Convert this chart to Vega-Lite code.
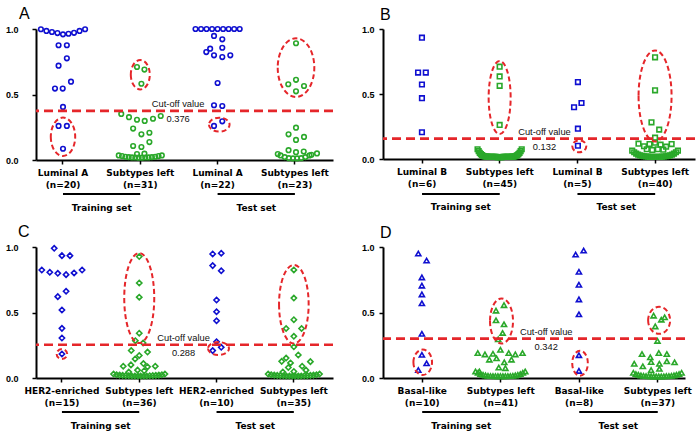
{
"$schema": "https://vega.github.io/schema/vega-lite/v6.json",
"background": "white",
"padding": 5,
"config": {
 "view": {"stroke": null},
 "font": "Liberation Sans",
 "title": {"fontSize": 16, "fontWeight": "normal", "font": "Liberation Sans", "color": "black", "frame": "group", "anchor": "start", "offset": 2},
 "axis": {"domainColor": "black", "domainWidth": 2, "tickColor": "black", "tickWidth": 1.5, "tickSize": 4, "grid": false, "labelColor": "black", "labelFontWeight": "bold", "labelFontSize": 9},
 "axisX": {"labelFont": "DejaVu Sans", "labelAngle": 0, "labelPadding": 4, "labelLineHeight": 12.3, "labelOverlap": false},
 "axisY": {"labelFont": "Liberation Sans"}
},
"datasets": {
 "A": [
  {"c":"Luminal A|(n=20)","g":"s","v":0.998,"o":-4},{"c":"Luminal A|(n=20)","g":"s","v":0.985,"o":-3},{"c":"Luminal A|(n=20)","g":"s","v":0.977,"o":-2},{"c":"Luminal A|(n=20)","g":"s","v":0.969,"o":-1},{"c":"Luminal A|(n=20)","g":"s","v":0.959,"o":0},{"c":"Luminal A|(n=20)","g":"s","v":0.964,"o":1},{"c":"Luminal A|(n=20)","g":"s","v":0.971,"o":2},{"c":"Luminal A|(n=20)","g":"s","v":0.985,"o":3},{"c":"Luminal A|(n=20)","g":"s","v":0.998,"o":4},
  {"c":"Luminal A|(n=20)","g":"s","v":0.876,"o":-0.8},{"c":"Luminal A|(n=20)","g":"s","v":0.876,"o":0.7},{"c":"Luminal A|(n=20)","g":"s","v":0.776,"o":0.7},{"c":"Luminal A|(n=20)","g":"s","v":0.72,"o":-0.8},{"c":"Luminal A|(n=20)","g":"s","v":0.598,"o":1.45},{"c":"Luminal A|(n=20)","g":"s","v":0.545,"o":-1.45},{"c":"Luminal A|(n=20)","g":"s","v":0.545,"o":-0.05},{"c":"Luminal A|(n=20)","g":"s","v":0.405,"o":0},{"c":"Luminal A|(n=20)","g":"s","v":0.26,"o":-0.8},{"c":"Luminal A|(n=20)","g":"s","v":0.26,"o":0.7},{"c":"Luminal A|(n=20)","g":"s","v":0.086,"o":0},
  {"c":"Subtypes left|(n=31)","g":"l","v":0.71,"o":-0.6},{"c":"Subtypes left|(n=31)","g":"l","v":0.69,"o":0.75},{"c":"Subtypes left|(n=31)","g":"l","v":0.582,"o":0.2},{"c":"Subtypes left|(n=31)","g":"l","v":0.352,"o":-3.45},{"c":"Subtypes left|(n=31)","g":"l","v":0.327,"o":-2.05},{"c":"Subtypes left|(n=31)","g":"l","v":0.307,"o":-0.6},{"c":"Subtypes left|(n=31)","g":"l","v":0.298,"o":0.8},{"c":"Subtypes left|(n=31)","g":"l","v":0.315,"o":2.3},{"c":"Subtypes left|(n=31)","g":"l","v":0.336,"o":3.7},{"c":"Subtypes left|(n=31)","g":"l","v":0.24,"o":-1.3},{"c":"Subtypes left|(n=31)","g":"l","v":0.196,"o":0.2},{"c":"Subtypes left|(n=31)","g":"l","v":0.208,"o":1.65},{"c":"Subtypes left|(n=31)","g":"l","v":0.107,"o":-1.3},{"c":"Subtypes left|(n=31)","g":"l","v":0.099,"o":0.2},{"c":"Subtypes left|(n=31)","g":"l","v":0.137,"o":1.65},{"c":"Subtypes left|(n=31)","g":"l","v":0.045,"o":-0.6},{"c":"Subtypes left|(n=31)","g":"l","v":0.048,"o":0.75},
  {"c":"Subtypes left|(n=31)","g":"l","v":0.035,"o":-3.9},{"c":"Subtypes left|(n=31)","g":"l","v":0.03,"o":-3.3},{"c":"Subtypes left|(n=31)","g":"l","v":0.025,"o":-2.7},{"c":"Subtypes left|(n=31)","g":"l","v":0.022,"o":-2.1},{"c":"Subtypes left|(n=31)","g":"l","v":0.02,"o":-1.5},{"c":"Subtypes left|(n=31)","g":"l","v":0.019,"o":-0.9},{"c":"Subtypes left|(n=31)","g":"l","v":0.018,"o":-0.3},{"c":"Subtypes left|(n=31)","g":"l","v":0.018,"o":0.3},{"c":"Subtypes left|(n=31)","g":"l","v":0.019,"o":0.9},{"c":"Subtypes left|(n=31)","g":"l","v":0.02,"o":1.5},{"c":"Subtypes left|(n=31)","g":"l","v":0.022,"o":2.1},{"c":"Subtypes left|(n=31)","g":"l","v":0.025,"o":2.7},{"c":"Subtypes left|(n=31)","g":"l","v":0.03,"o":3.3},{"c":"Subtypes left|(n=31)","g":"l","v":0.035,"o":3.9},
  {"c":"Luminal A|(n=22)","g":"s","v":1.0,"o":-4},{"c":"Luminal A|(n=22)","g":"s","v":1.0,"o":-3},{"c":"Luminal A|(n=22)","g":"s","v":1.0,"o":-2},{"c":"Luminal A|(n=22)","g":"s","v":1.0,"o":-1},{"c":"Luminal A|(n=22)","g":"s","v":1.0,"o":0},{"c":"Luminal A|(n=22)","g":"s","v":1.0,"o":1},{"c":"Luminal A|(n=22)","g":"s","v":1.0,"o":2},{"c":"Luminal A|(n=22)","g":"s","v":1.0,"o":3},{"c":"Luminal A|(n=22)","g":"s","v":1.0,"o":4},
  {"c":"Luminal A|(n=22)","g":"s","v":0.947,"o":-0.65},{"c":"Luminal A|(n=22)","g":"s","v":0.921,"o":0.85},{"c":"Luminal A|(n=22)","g":"s","v":0.85,"o":-1.35},{"c":"Luminal A|(n=22)","g":"s","v":0.824,"o":-2.05},{"c":"Luminal A|(n=22)","g":"s","v":0.799,"o":-0.65},{"c":"Luminal A|(n=22)","g":"s","v":0.857,"o":0.85},{"c":"Luminal A|(n=22)","g":"s","v":0.786,"o":0.85},{"c":"Luminal A|(n=22)","g":"s","v":0.799,"o":2.3},{"c":"Luminal A|(n=22)","g":"s","v":0.588,"o":0},{"c":"Luminal A|(n=22)","g":"s","v":0.418,"o":-0.65},{"c":"Luminal A|(n=22)","g":"s","v":0.412,"o":0.85},{"c":"Luminal A|(n=22)","g":"s","v":0.26,"o":-0.65},{"c":"Luminal A|(n=22)","g":"s","v":0.295,"o":0.85},
  {"c":"Subtypes left|(n=23)","g":"l","v":0.891,"o":0.2},{"c":"Subtypes left|(n=23)","g":"l","v":0.578,"o":-1.2},{"c":"Subtypes left|(n=23)","g":"l","v":0.612,"o":0.2},{"c":"Subtypes left|(n=23)","g":"l","v":0.565,"o":1.65},{"c":"Subtypes left|(n=23)","g":"l","v":0.524,"o":0.2},{"c":"Subtypes left|(n=23)","g":"l","v":0.247,"o":0.2},{"c":"Subtypes left|(n=23)","g":"l","v":0.196,"o":-1.15},{"c":"Subtypes left|(n=23)","g":"l","v":0.153,"o":0.2},{"c":"Subtypes left|(n=23)","g":"l","v":0.176,"o":1.65},{"c":"Subtypes left|(n=23)","g":"l","v":0.045,"o":-3.1},{"c":"Subtypes left|(n=23)","g":"l","v":0.075,"o":-1.15},{"c":"Subtypes left|(n=23)","g":"l","v":0.06,"o":0.2},{"c":"Subtypes left|(n=23)","g":"l","v":0.065,"o":1.6},{"c":"Subtypes left|(n=23)","g":"l","v":0.04,"o":3.0},{"c":"Subtypes left|(n=23)","g":"l","v":0.05,"o":4.0},
  {"c":"Subtypes left|(n=23)","g":"l","v":0.035,"o":-2.6},{"c":"Subtypes left|(n=23)","g":"l","v":0.022,"o":-1.85},{"c":"Subtypes left|(n=23)","g":"l","v":0.014,"o":-1.1},{"c":"Subtypes left|(n=23)","g":"l","v":0.012,"o":-0.35},{"c":"Subtypes left|(n=23)","g":"l","v":0.012,"o":0.4},{"c":"Subtypes left|(n=23)","g":"l","v":0.014,"o":1.15},{"c":"Subtypes left|(n=23)","g":"l","v":0.022,"o":1.9},{"c":"Subtypes left|(n=23)","g":"l","v":0.035,"o":2.65}
 ],
 "Ae": [
  {"c":"Luminal A|(n=20)","o":0,"v":0.177,"e":"A1"},{"c":"Subtypes left|(n=31)","o":0,"v":0.651,"e":"A2"},{"c":"Luminal A|(n=22)","o":0.3,"v":0.27,"e":"A3"},{"c":"Subtypes left|(n=23)","o":0.2,"v":0.705,"e":"A4"}
 ],
 "Ac": [{"c":"Luminal A|(n=22)","v":0.375,"t":"0.376"}],
 "Ag": [{"c":"Luminal A|(n=20)","c2":"Subtypes left|(n=31)","t":"Training set"},{"c":"Luminal A|(n=22)","c2":"Subtypes left|(n=23)","t":"Test set"}],
 "B": [
  {"c":"Luminal B|(n=6)","g":"s","v":0.933,"o":0},{"c":"Luminal B|(n=6)","g":"s","v":0.665,"o":-0.7},{"c":"Luminal B|(n=6)","g":"s","v":0.665,"o":0.7},{"c":"Luminal B|(n=6)","g":"s","v":0.573,"o":0},{"c":"Luminal B|(n=6)","g":"s","v":0.468,"o":0},{"c":"Luminal B|(n=6)","g":"s","v":0.206,"o":0},
  {"c":"Subtypes left|(n=45)","g":"l","v":0.71,"o":0},{"c":"Subtypes left|(n=45)","g":"l","v":0.635,"o":0},{"c":"Subtypes left|(n=45)","g":"l","v":0.563,"o":0},{"c":"Subtypes left|(n=45)","g":"l","v":0.262,"o":0},
  {"c":"Subtypes left|(n=45)","g":"l","v":0.075,"o":-4.0},{"c":"Subtypes left|(n=45)","g":"l","v":0.06,"o":-3.8},{"c":"Subtypes left|(n=45)","g":"l","v":0.047,"o":-3.6},{"c":"Subtypes left|(n=45)","g":"l","v":0.037,"o":-3.4},{"c":"Subtypes left|(n=45)","g":"l","v":0.03,"o":-3.2},{"c":"Subtypes left|(n=45)","g":"l","v":0.025,"o":-3.0},{"c":"Subtypes left|(n=45)","g":"l","v":0.021,"o":-2.8},{"c":"Subtypes left|(n=45)","g":"l","v":0.019,"o":-2.6},{"c":"Subtypes left|(n=45)","g":"l","v":0.018,"o":-2.4},{"c":"Subtypes left|(n=45)","g":"l","v":0.018,"o":-2.2},{"c":"Subtypes left|(n=45)","g":"l","v":0.017,"o":-2.0},{"c":"Subtypes left|(n=45)","g":"l","v":0.017,"o":-1.8},{"c":"Subtypes left|(n=45)","g":"l","v":0.017,"o":-1.6},{"c":"Subtypes left|(n=45)","g":"l","v":0.016,"o":-1.4},{"c":"Subtypes left|(n=45)","g":"l","v":0.016,"o":-1.2},{"c":"Subtypes left|(n=45)","g":"l","v":0.016,"o":-1.0},{"c":"Subtypes left|(n=45)","g":"l","v":0.016,"o":-0.8},{"c":"Subtypes left|(n=45)","g":"l","v":0.016,"o":-0.6},{"c":"Subtypes left|(n=45)","g":"l","v":0.015,"o":-0.4},{"c":"Subtypes left|(n=45)","g":"l","v":0.015,"o":-0.2},{"c":"Subtypes left|(n=45)","g":"l","v":0.015,"o":0},{"c":"Subtypes left|(n=45)","g":"l","v":0.015,"o":0.2},{"c":"Subtypes left|(n=45)","g":"l","v":0.015,"o":0.4},{"c":"Subtypes left|(n=45)","g":"l","v":0.016,"o":0.6},{"c":"Subtypes left|(n=45)","g":"l","v":0.016,"o":0.8},{"c":"Subtypes left|(n=45)","g":"l","v":0.016,"o":1.0},{"c":"Subtypes left|(n=45)","g":"l","v":0.016,"o":1.2},{"c":"Subtypes left|(n=45)","g":"l","v":0.016,"o":1.4},{"c":"Subtypes left|(n=45)","g":"l","v":0.017,"o":1.6},{"c":"Subtypes left|(n=45)","g":"l","v":0.017,"o":1.8},{"c":"Subtypes left|(n=45)","g":"l","v":0.017,"o":2.0},{"c":"Subtypes left|(n=45)","g":"l","v":0.018,"o":2.2},{"c":"Subtypes left|(n=45)","g":"l","v":0.018,"o":2.4},{"c":"Subtypes left|(n=45)","g":"l","v":0.019,"o":2.6},{"c":"Subtypes left|(n=45)","g":"l","v":0.021,"o":2.8},{"c":"Subtypes left|(n=45)","g":"l","v":0.025,"o":3.0},{"c":"Subtypes left|(n=45)","g":"l","v":0.03,"o":3.2},{"c":"Subtypes left|(n=45)","g":"l","v":0.037,"o":3.4},{"c":"Subtypes left|(n=45)","g":"l","v":0.047,"o":3.6},{"c":"Subtypes left|(n=45)","g":"l","v":0.06,"o":3.8},{"c":"Subtypes left|(n=45)","g":"l","v":0.075,"o":4.0},
  {"c":"Luminal B|(n=5)","g":"s","v":0.592,"o":0.1},{"c":"Luminal B|(n=5)","g":"s","v":0.431,"o":0.75},{"c":"Luminal B|(n=5)","g":"s","v":0.398,"o":-0.6},{"c":"Luminal B|(n=5)","g":"s","v":0.233,"o":0.1},{"c":"Luminal B|(n=5)","g":"s","v":0.102,"o":0.1},
  {"c":"Subtypes left|(n=40)","g":"l","v":0.782,"o":0},{"c":"Subtypes left|(n=40)","g":"l","v":0.528,"o":0},{"c":"Subtypes left|(n=40)","g":"l","v":0.282,"o":-0.65},{"c":"Subtypes left|(n=40)","g":"l","v":0.226,"o":0.75},{"c":"Subtypes left|(n=40)","g":"l","v":0.164,"o":0},
  {"c":"Subtypes left|(n=40)","g":"l","v":0.118,"o":-3.0},{"c":"Subtypes left|(n=40)","g":"l","v":0.098,"o":-2.0},{"c":"Subtypes left|(n=40)","g":"l","v":0.115,"o":-1.0},{"c":"Subtypes left|(n=40)","g":"l","v":0.125,"o":0},{"c":"Subtypes left|(n=40)","g":"l","v":0.11,"o":1.0},{"c":"Subtypes left|(n=40)","g":"l","v":0.095,"o":2.0},{"c":"Subtypes left|(n=40)","g":"l","v":0.115,"o":3.0},
  {"c":"Subtypes left|(n=40)","g":"l","v":0.075,"o":-1.5},{"c":"Subtypes left|(n=40)","g":"l","v":0.07,"o":-0.5},{"c":"Subtypes left|(n=40)","g":"l","v":0.075,"o":0.5},{"c":"Subtypes left|(n=40)","g":"l","v":0.072,"o":1.5},
  {"c":"Subtypes left|(n=40)","g":"l","v":0.065,"o":-4.14},{"c":"Subtypes left|(n=40)","g":"l","v":0.052,"o":-3.78},{"c":"Subtypes left|(n=40)","g":"l","v":0.042,"o":-3.42},{"c":"Subtypes left|(n=40)","g":"l","v":0.034,"o":-3.06},{"c":"Subtypes left|(n=40)","g":"l","v":0.028,"o":-2.7},{"c":"Subtypes left|(n=40)","g":"l","v":0.024,"o":-2.34},{"c":"Subtypes left|(n=40)","g":"l","v":0.021,"o":-1.98},{"c":"Subtypes left|(n=40)","g":"l","v":0.019,"o":-1.62},{"c":"Subtypes left|(n=40)","g":"l","v":0.018,"o":-1.26},{"c":"Subtypes left|(n=40)","g":"l","v":0.017,"o":-0.9},{"c":"Subtypes left|(n=40)","g":"l","v":0.016,"o":-0.54},{"c":"Subtypes left|(n=40)","g":"l","v":0.016,"o":-0.18},{"c":"Subtypes left|(n=40)","g":"l","v":0.016,"o":0.18},{"c":"Subtypes left|(n=40)","g":"l","v":0.016,"o":0.54},{"c":"Subtypes left|(n=40)","g":"l","v":0.017,"o":0.9},{"c":"Subtypes left|(n=40)","g":"l","v":0.018,"o":1.26},{"c":"Subtypes left|(n=40)","g":"l","v":0.019,"o":1.62},{"c":"Subtypes left|(n=40)","g":"l","v":0.021,"o":1.98},{"c":"Subtypes left|(n=40)","g":"l","v":0.024,"o":2.34},{"c":"Subtypes left|(n=40)","g":"l","v":0.028,"o":2.7},{"c":"Subtypes left|(n=40)","g":"l","v":0.034,"o":3.06},{"c":"Subtypes left|(n=40)","g":"l","v":0.042,"o":3.42},{"c":"Subtypes left|(n=40)","g":"l","v":0.052,"o":3.78},{"c":"Subtypes left|(n=40)","g":"l","v":0.065,"o":4.14}
 ],
 "Be": [
  {"c":"Subtypes left|(n=45)","o":0,"v":0.473,"e":"B2"},{"c":"Luminal B|(n=5)","o":0.35,"v":0.098,"e":"B3"},{"c":"Subtypes left|(n=40)","o":0,"v":0.485,"e":"B4"}
 ],
 "Bc": [{"c":"Luminal B|(n=5)","v":0.157,"t":"0.132"}],
 "Bg": [{"c":"Luminal B|(n=6)","c2":"Subtypes left|(n=45)","t":"Training set"},{"c":"Luminal B|(n=5)","c2":"Subtypes left|(n=40)","t":"Test set"}],
 "C": [
  {"c":"HER2-enriched|(n=15)","g":"s","v":0.99,"o":-1.4},{"c":"HER2-enriched|(n=15)","g":"s","v":0.934,"o":0},{"c":"HER2-enriched|(n=15)","g":"s","v":0.934,"o":1.45},{"c":"HER2-enriched|(n=15)","g":"s","v":0.824,"o":-3.65},{"c":"HER2-enriched|(n=15)","g":"s","v":0.807,"o":-2.2},{"c":"HER2-enriched|(n=15)","g":"s","v":0.799,"o":-0.75},{"c":"HER2-enriched|(n=15)","g":"s","v":0.789,"o":0.75},{"c":"HER2-enriched|(n=15)","g":"s","v":0.802,"o":2.2},{"c":"HER2-enriched|(n=15)","g":"s","v":0.824,"o":3.65},{"c":"HER2-enriched|(n=15)","g":"s","v":0.662,"o":0.75},{"c":"HER2-enriched|(n=15)","g":"s","v":0.621,"o":-0.75},{"c":"HER2-enriched|(n=15)","g":"s","v":0.519,"o":0},{"c":"HER2-enriched|(n=15)","g":"s","v":0.379,"o":0},{"c":"HER2-enriched|(n=15)","g":"s","v":0.305,"o":0},{"c":"HER2-enriched|(n=15)","g":"s","v":0.183,"o":0},
  {"c":"Subtypes left|(n=36)","g":"l","v":0.927,"o":0},{"c":"Subtypes left|(n=36)","g":"l","v":0.725,"o":0},{"c":"Subtypes left|(n=36)","g":"l","v":0.617,"o":0},{"c":"Subtypes left|(n=36)","g":"l","v":0.342,"o":0},{"c":"Subtypes left|(n=36)","g":"l","v":0.285,"o":-0.7},{"c":"Subtypes left|(n=36)","g":"l","v":0.267,"o":0.7},
  {"c":"Subtypes left|(n=36)","g":"l","v":0.21,"o":-1.45},{"c":"Subtypes left|(n=36)","g":"l","v":0.198,"o":1.5},{"c":"Subtypes left|(n=36)","g":"l","v":0.172,"o":0},{"c":"Subtypes left|(n=36)","g":"l","v":0.145,"o":-0.75},{"c":"Subtypes left|(n=36)","g":"l","v":0.11,"o":0.75},{"c":"Subtypes left|(n=36)","g":"l","v":0.09,"o":-2.9},{"c":"Subtypes left|(n=36)","g":"l","v":0.1,"o":-1.5},{"c":"Subtypes left|(n=36)","g":"l","v":0.09,"o":2.9},{"c":"Subtypes left|(n=36)","g":"l","v":0.085,"o":1.5},{"c":"Subtypes left|(n=36)","g":"l","v":0.06,"o":-0.3},{"c":"Subtypes left|(n=36)","g":"l","v":0.055,"o":0.9},{"c":"Subtypes left|(n=36)","g":"l","v":0.045,"o":-1.9},
  {"c":"Subtypes left|(n=36)","g":"l","v":0.03,"o":-4.65},{"c":"Subtypes left|(n=36)","g":"l","v":0.025,"o":-4.1},{"c":"Subtypes left|(n=36)","g":"l","v":0.022,"o":-3.55},{"c":"Subtypes left|(n=36)","g":"l","v":0.02,"o":-3.0},{"c":"Subtypes left|(n=36)","g":"l","v":0.018,"o":-2.45},{"c":"Subtypes left|(n=36)","g":"l","v":0.017,"o":-1.9},{"c":"Subtypes left|(n=36)","g":"l","v":0.016,"o":-1.35},{"c":"Subtypes left|(n=36)","g":"l","v":0.015,"o":-0.8},{"c":"Subtypes left|(n=36)","g":"l","v":0.015,"o":-0.25},{"c":"Subtypes left|(n=36)","g":"l","v":0.015,"o":0.25},{"c":"Subtypes left|(n=36)","g":"l","v":0.015,"o":0.8},{"c":"Subtypes left|(n=36)","g":"l","v":0.016,"o":1.35},{"c":"Subtypes left|(n=36)","g":"l","v":0.017,"o":1.9},{"c":"Subtypes left|(n=36)","g":"l","v":0.018,"o":2.45},{"c":"Subtypes left|(n=36)","g":"l","v":0.02,"o":3.0},{"c":"Subtypes left|(n=36)","g":"l","v":0.022,"o":3.55},{"c":"Subtypes left|(n=36)","g":"l","v":0.025,"o":4.1},{"c":"Subtypes left|(n=36)","g":"l","v":0.03,"o":4.65},
  {"c":"HER2-enriched|(n=10)","g":"s","v":0.947,"o":-0.7},{"c":"HER2-enriched|(n=10)","g":"s","v":0.952,"o":0.85},{"c":"HER2-enriched|(n=10)","g":"s","v":0.858,"o":-0.7},{"c":"HER2-enriched|(n=10)","g":"s","v":0.819,"o":0.85},{"c":"HER2-enriched|(n=10)","g":"s","v":0.595,"o":0},{"c":"HER2-enriched|(n=10)","g":"s","v":0.506,"o":0},{"c":"HER2-enriched|(n=10)","g":"s","v":0.437,"o":0},{"c":"HER2-enriched|(n=10)","g":"s","v":0.277,"o":0},{"c":"HER2-enriched|(n=10)","g":"s","v":0.209,"o":-0.7},{"c":"HER2-enriched|(n=10)","g":"s","v":0.234,"o":0.85},
  {"c":"Subtypes left|(n=35)","g":"l","v":0.825,"o":0},{"c":"Subtypes left|(n=35)","g":"l","v":0.61,"o":0},{"c":"Subtypes left|(n=35)","g":"l","v":0.445,"o":0},{"c":"Subtypes left|(n=35)","g":"l","v":0.378,"o":-1.4},{"c":"Subtypes left|(n=35)","g":"l","v":0.378,"o":1.4},{"c":"Subtypes left|(n=35)","g":"l","v":0.318,"o":0},{"c":"Subtypes left|(n=35)","g":"l","v":0.238,"o":0},
  {"c":"Subtypes left|(n=35)","g":"l","v":0.176,"o":0.8},{"c":"Subtypes left|(n=35)","g":"l","v":0.152,"o":-1.4},{"c":"Subtypes left|(n=35)","g":"l","v":0.127,"o":-2.2},{"c":"Subtypes left|(n=35)","g":"l","v":0.125,"o":3.0},{"c":"Subtypes left|(n=35)","g":"l","v":0.115,"o":-0.6},{"c":"Subtypes left|(n=35)","g":"l","v":0.09,"o":1.5},{"c":"Subtypes left|(n=35)","g":"l","v":0.08,"o":-1.0},{"c":"Subtypes left|(n=35)","g":"l","v":0.05,"o":0},{"c":"Subtypes left|(n=35)","g":"l","v":0.06,"o":2.2},{"c":"Subtypes left|(n=35)","g":"l","v":0.045,"o":-2.0},
  {"c":"Subtypes left|(n=35)","g":"l","v":0.03,"o":-4.65},{"c":"Subtypes left|(n=35)","g":"l","v":0.025,"o":-4.1},{"c":"Subtypes left|(n=35)","g":"l","v":0.022,"o":-3.55},{"c":"Subtypes left|(n=35)","g":"l","v":0.02,"o":-3.0},{"c":"Subtypes left|(n=35)","g":"l","v":0.018,"o":-2.45},{"c":"Subtypes left|(n=35)","g":"l","v":0.017,"o":-1.9},{"c":"Subtypes left|(n=35)","g":"l","v":0.016,"o":-1.35},{"c":"Subtypes left|(n=35)","g":"l","v":0.015,"o":-0.8},{"c":"Subtypes left|(n=35)","g":"l","v":0.015,"o":-0.25},{"c":"Subtypes left|(n=35)","g":"l","v":0.015,"o":0.25},{"c":"Subtypes left|(n=35)","g":"l","v":0.015,"o":0.8},{"c":"Subtypes left|(n=35)","g":"l","v":0.016,"o":1.35},{"c":"Subtypes left|(n=35)","g":"l","v":0.017,"o":1.9},{"c":"Subtypes left|(n=35)","g":"l","v":0.018,"o":2.45},{"c":"Subtypes left|(n=35)","g":"l","v":0.02,"o":3.0},{"c":"Subtypes left|(n=35)","g":"l","v":0.022,"o":3.55},{"c":"Subtypes left|(n=35)","g":"l","v":0.025,"o":4.1},{"c":"Subtypes left|(n=35)","g":"l","v":0.03,"o":4.65}
 ],
 "Ce": [
  {"c":"HER2-enriched|(n=15)","o":0,"v":0.183,"e":"C1"},{"c":"Subtypes left|(n=36)","o":0,"v":0.61,"e":"C2"},{"c":"HER2-enriched|(n=10)","o":0.35,"v":0.225,"e":"C3"},{"c":"Subtypes left|(n=35)","o":0,"v":0.563,"e":"C4"}
 ],
 "Cc": [{"c":"HER2-enriched|(n=10)","v":0.254,"t":"0.288"}],
 "Cg": [{"c":"HER2-enriched|(n=15)","c2":"Subtypes left|(n=36)","t":"Training set"},{"c":"HER2-enriched|(n=10)","c2":"Subtypes left|(n=35)","t":"Test set"}],
 "D": [
  {"c":"Basal-like|(n=10)","g":"s","v":0.95,"o":-0.65},{"c":"Basal-like|(n=10)","g":"s","v":0.897,"o":0.85},{"c":"Basal-like|(n=10)","g":"s","v":0.768,"o":0},{"c":"Basal-like|(n=10)","g":"s","v":0.705,"o":0},{"c":"Basal-like|(n=10)","g":"s","v":0.638,"o":0},{"c":"Basal-like|(n=10)","g":"s","v":0.57,"o":0},{"c":"Basal-like|(n=10)","g":"s","v":0.337,"o":0},{"c":"Basal-like|(n=10)","g":"s","v":0.177,"o":0},{"c":"Basal-like|(n=10)","g":"s","v":0.112,"o":0.85},{"c":"Basal-like|(n=10)","g":"s","v":0.061,"o":-0.65},
  {"c":"Subtypes left|(n=41)","g":"l","v":0.514,"o":-0.8},{"c":"Subtypes left|(n=41)","g":"l","v":0.556,"o":0.65},{"c":"Subtypes left|(n=41)","g":"l","v":0.44,"o":-0.8},{"c":"Subtypes left|(n=41)","g":"l","v":0.41,"o":0.65},{"c":"Subtypes left|(n=41)","g":"l","v":0.344,"o":0.4},{"c":"Subtypes left|(n=41)","g":"l","v":0.295,"o":-0.4},
  {"c":"Subtypes left|(n=41)","g":"l","v":0.19,"o":-4.1},{"c":"Subtypes left|(n=41)","g":"l","v":0.18,"o":-2.8},{"c":"Subtypes left|(n=41)","g":"l","v":0.185,"o":-1.35},{"c":"Subtypes left|(n=41)","g":"l","v":0.215,"o":0},{"c":"Subtypes left|(n=41)","g":"l","v":0.19,"o":1.5},{"c":"Subtypes left|(n=41)","g":"l","v":0.18,"o":2.7},{"c":"Subtypes left|(n=41)","g":"l","v":0.19,"o":4.0},{"c":"Subtypes left|(n=41)","g":"l","v":0.14,"o":-2.0},{"c":"Subtypes left|(n=41)","g":"l","v":0.15,"o":-0.7},{"c":"Subtypes left|(n=41)","g":"l","v":0.12,"o":0.7},{"c":"Subtypes left|(n=41)","g":"l","v":0.14,"o":2.0},{"c":"Subtypes left|(n=41)","g":"l","v":0.08,"o":-0.3},{"c":"Subtypes left|(n=41)","g":"l","v":0.075,"o":0.9},{"c":"Subtypes left|(n=41)","g":"l","v":0.05,"o":-3.8},
  {"c":"Subtypes left|(n=41)","g":"l","v":0.05,"o":-4.5},{"c":"Subtypes left|(n=41)","g":"l","v":0.04,"o":-4.05},{"c":"Subtypes left|(n=41)","g":"l","v":0.03,"o":-3.6},{"c":"Subtypes left|(n=41)","g":"l","v":0.024,"o":-3.15},{"c":"Subtypes left|(n=41)","g":"l","v":0.02,"o":-2.7},{"c":"Subtypes left|(n=41)","g":"l","v":0.017,"o":-2.25},{"c":"Subtypes left|(n=41)","g":"l","v":0.015,"o":-1.8},{"c":"Subtypes left|(n=41)","g":"l","v":0.015,"o":-1.35},{"c":"Subtypes left|(n=41)","g":"l","v":0.014,"o":-0.9},{"c":"Subtypes left|(n=41)","g":"l","v":0.014,"o":-0.45},{"c":"Subtypes left|(n=41)","g":"l","v":0.014,"o":0},{"c":"Subtypes left|(n=41)","g":"l","v":0.014,"o":0.45},{"c":"Subtypes left|(n=41)","g":"l","v":0.014,"o":0.9},{"c":"Subtypes left|(n=41)","g":"l","v":0.015,"o":1.35},{"c":"Subtypes left|(n=41)","g":"l","v":0.015,"o":1.8},{"c":"Subtypes left|(n=41)","g":"l","v":0.017,"o":2.25},{"c":"Subtypes left|(n=41)","g":"l","v":0.02,"o":2.7},{"c":"Subtypes left|(n=41)","g":"l","v":0.024,"o":3.15},{"c":"Subtypes left|(n=41)","g":"l","v":0.03,"o":3.6},{"c":"Subtypes left|(n=41)","g":"l","v":0.04,"o":4.05},{"c":"Subtypes left|(n=41)","g":"l","v":0.05,"o":4.5},
  {"c":"Basal-like|(n=8)","g":"s","v":0.942,"o":-0.6},{"c":"Basal-like|(n=8)","g":"s","v":0.973,"o":0.85},{"c":"Basal-like|(n=8)","g":"s","v":0.811,"o":0},{"c":"Basal-like|(n=8)","g":"s","v":0.712,"o":0},{"c":"Basal-like|(n=8)","g":"s","v":0.6,"o":0},{"c":"Basal-like|(n=8)","g":"s","v":0.486,"o":0},{"c":"Basal-like|(n=8)","g":"s","v":0.174,"o":0},{"c":"Basal-like|(n=8)","g":"s","v":0.054,"o":0},
  {"c":"Subtypes left|(n=37)","g":"l","v":0.476,"o":-0.7},{"c":"Subtypes left|(n=37)","g":"l","v":0.445,"o":0.7},{"c":"Subtypes left|(n=37)","g":"l","v":0.463,"o":1.3},{"c":"Subtypes left|(n=37)","g":"l","v":0.394,"o":-0.4},{"c":"Subtypes left|(n=37)","g":"l","v":0.283,"o":0},
  {"c":"Subtypes left|(n=37)","g":"l","v":0.183,"o":-2.8},{"c":"Subtypes left|(n=37)","g":"l","v":0.158,"o":-1.3},{"c":"Subtypes left|(n=37)","g":"l","v":0.191,"o":0.25},{"c":"Subtypes left|(n=37)","g":"l","v":0.183,"o":1.7},{"c":"Subtypes left|(n=37)","g":"l","v":0.109,"o":-4.2},{"c":"Subtypes left|(n=37)","g":"l","v":0.089,"o":-2.65},{"c":"Subtypes left|(n=37)","g":"l","v":0.122,"o":-1.15},{"c":"Subtypes left|(n=37)","g":"l","v":0.109,"o":0.35},{"c":"Subtypes left|(n=37)","g":"l","v":0.127,"o":1.7},{"c":"Subtypes left|(n=37)","g":"l","v":0.12,"o":3.1},{"c":"Subtypes left|(n=37)","g":"l","v":0.06,"o":-1.15},{"c":"Subtypes left|(n=37)","g":"l","v":0.07,"o":0.35},
  {"c":"Subtypes left|(n=37)","g":"l","v":0.04,"o":-4.37},{"c":"Subtypes left|(n=37)","g":"l","v":0.03,"o":-3.91},{"c":"Subtypes left|(n=37)","g":"l","v":0.025,"o":-3.45},{"c":"Subtypes left|(n=37)","g":"l","v":0.02,"o":-2.99},{"c":"Subtypes left|(n=37)","g":"l","v":0.017,"o":-2.53},{"c":"Subtypes left|(n=37)","g":"l","v":0.015,"o":-2.07},{"c":"Subtypes left|(n=37)","g":"l","v":0.014,"o":-1.61},{"c":"Subtypes left|(n=37)","g":"l","v":0.013,"o":-1.15},{"c":"Subtypes left|(n=37)","g":"l","v":0.012,"o":-0.69},{"c":"Subtypes left|(n=37)","g":"l","v":0.012,"o":-0.23},{"c":"Subtypes left|(n=37)","g":"l","v":0.012,"o":0.23},{"c":"Subtypes left|(n=37)","g":"l","v":0.012,"o":0.69},{"c":"Subtypes left|(n=37)","g":"l","v":0.013,"o":1.15},{"c":"Subtypes left|(n=37)","g":"l","v":0.014,"o":1.61},{"c":"Subtypes left|(n=37)","g":"l","v":0.015,"o":2.07},{"c":"Subtypes left|(n=37)","g":"l","v":0.017,"o":2.53},{"c":"Subtypes left|(n=37)","g":"l","v":0.02,"o":2.99},{"c":"Subtypes left|(n=37)","g":"l","v":0.025,"o":3.45},{"c":"Subtypes left|(n=37)","g":"l","v":0.03,"o":3.91},{"c":"Subtypes left|(n=37)","g":"l","v":0.04,"o":4.37}
 ],
 "De": [
  {"c":"Basal-like|(n=10)","o":0.15,"v":0.12,"e":"D1"},{"c":"Subtypes left|(n=41)","o":0.2,"v":0.435,"e":"D2"},{"c":"Basal-like|(n=8)","o":0.2,"v":0.113,"e":"D3"},{"c":"Subtypes left|(n=37)","o":0.3,"v":0.44,"e":"D4"}
 ],
 "Dc": [{"c":"Basal-like|(n=8)","v":0.30,"t":"0.342"}],
 "Dg": [{"c":"Basal-like|(n=10)","c2":"Subtypes left|(n=41)","t":"Training set"},{"c":"Basal-like|(n=8)","c2":"Subtypes left|(n=37)","t":"Test set"}]
},
"resolve": {"scale": {"shape": "independent", "color": "independent"}},
"vconcat": [
 {"resolve": {"scale": {"shape": "independent", "color": "independent"}},
  "hconcat": [
  {
   "width": 297, "height": 131,
   "title": {"text": "A", "frame": "group", "anchor": "start", "align": "left", "dx": -17},
   "layer": [
    {"data": {"name": "A"},
     "mark": {"type": "point", "shape": "circle", "filled": false, "size": 21, "strokeWidth": 1.6, "opacity": 1},
     "encoding": {
      "x": {"field": "c", "type": "nominal", "title": null, "scale": {"domain": ["Luminal A|(n=20)","Subtypes left|(n=31)","Luminal A|(n=22)","Subtypes left|(n=23)"], "paddingInner": 0.5, "paddingOuter": 0.171, "align": 0.29}, "axis": {"labelExpr": "split(datum.label, '|')"}},
      "xOffset": {"field": "o", "type": "quantitative", "scale": {"domain": [-3.5, 3.5], "nice": false, "zero": false}},
      "y": {"field": "v", "type": "quantitative", "title": null, "scale": {"domain": [0, 1], "nice": false}, "axis": {"values": [0, 0.5, 1], "format": ".1f", "labelPadding": 14}},
      "color": {"field": "g", "type": "nominal", "scale": {"domain": ["s","l"], "range": ["#0f0fd0","#2aa82a"]}, "legend": null}
     }},
    {"data": {"name": "Ae"},
     "mark": {"type": "point", "filled": false, "size": 4, "stroke": "#e5262a", "strokeWidth": 2, "strokeDash": [5,3], "opacity": 1},
     "encoding": {
      "x": {"field": "c", "type": "nominal", "title": null},
      "xOffset": {"field": "o", "type": "quantitative"},
      "y": {"field": "v", "type": "quantitative", "title": null},
      "shape": {"field": "e", "type": "nominal", "legend": null, "scale": {"domain": ["A1","A2","A3","A4"], "range": [
        "M-12.2,0 A12.2,19.2 0 1 0 12.2,0 A12.2,19.2 0 1 0 -12.2,0 Z",
        "M-9.5,0 A9.5,14.7 0 1 0 9.5,0 A9.5,14.7 0 1 0 -9.5,0 Z",
        "M-10.3,0 A10.3,7 0 1 0 10.3,0 A10.3,7 0 1 0 -10.3,0 Z",
        "M-18.3,0 A18.3,29.3 0 1 0 18.3,0 A18.3,29.3 0 1 0 -18.3,0 Z"]}}
     }},
    {"data": {"name": "Ac"},
     "mark": {"type": "rule", "stroke": "#e5262a", "strokeWidth": 2.7, "strokeDash": [9,5]},
     "encoding": {"y": {"field": "v", "type": "quantitative", "title": null}}},
    {"data": {"name": "Ac"},
     "mark": {"type": "text", "text": "Cut-off value", "dx": -39.5, "dy": -2, "baseline": "bottom", "fontSize": 9.3, "color": "#111"},
     "encoding": {"x": {"field": "c", "type": "nominal", "title": null}, "y": {"field": "v", "type": "quantitative", "title": null}}},
    {"data": {"name": "Ac"},
     "mark": {"type": "text", "dx": -39.5, "dy": 4, "baseline": "top", "fontSize": 9.3, "color": "#111"},
     "encoding": {"x": {"field": "c", "type": "nominal", "title": null}, "y": {"field": "v", "type": "quantitative", "title": null}, "text": {"field": "t"}}},
    {"data": {"name": "Ag"},
     "mark": {"type": "rule", "color": "black", "strokeWidth": 2},
     "encoding": {"x": {"field": "c", "type": "nominal", "title": null}, "x2": {"field": "c2"}, "y": {"datum": -0.26, "type": "quantitative"}}},
    {"data": {"name": "Ag"},
     "mark": {"type": "text", "dx": 38.7, "baseline": "middle", "font": "DejaVu Sans", "fontWeight": "bold", "fontSize": 9, "color": "black"},
     "encoding": {"x": {"field": "c", "type": "nominal", "title": null}, "y": {"datum": -0.365, "type": "quantitative"}, "text": {"field": "t"}}}
   ]
  },
  {
   "width": 312, "height": 130,
   "title": {"text": "B", "frame": "group", "anchor": "start", "align": "left", "dx": -3},
   "layer": [
    {"data": {"name": "B"},
     "mark": {"type": "point", "shape": "square", "filled": false, "size": 21, "strokeWidth": 1.6, "opacity": 1},
     "encoding": {
      "x": {"field": "c", "type": "nominal", "title": null, "scale": {"domain": ["Luminal B|(n=6)","Subtypes left|(n=45)","Luminal B|(n=5)","Subtypes left|(n=40)"], "paddingInner": 0.5, "paddingOuter": 0.2575, "align": 0.49}, "axis": {"labelExpr": "split(datum.label, '|')"}},
      "xOffset": {"field": "o", "type": "quantitative", "scale": {"domain": [-3.5, 3.5], "nice": false, "zero": false}},
      "y": {"field": "v", "type": "quantitative", "title": null, "scale": {"domain": [0, 1], "nice": false}, "axis": {"values": [0, 0.5, 1], "format": ".1f", "labelPadding": 5}},
      "color": {"field": "g", "type": "nominal", "scale": {"domain": ["s","l"], "range": ["#0f0fd0","#2aa82a"]}, "legend": null}
     }},
    {"data": {"name": "Be"},
     "mark": {"type": "point", "filled": false, "size": 4, "stroke": "#e5262a", "strokeWidth": 2, "strokeDash": [5,3], "opacity": 1},
     "encoding": {
      "x": {"field": "c", "type": "nominal", "title": null},
      "xOffset": {"field": "o", "type": "quantitative"},
      "y": {"field": "v", "type": "quantitative", "title": null},
      "shape": {"field": "e", "type": "nominal", "legend": null, "scale": {"domain": ["B2","B3","B4"], "range": [
        "M-11,0 A11,36.5 0 1 0 11,0 A11,36.5 0 1 0 -11,0 Z",
        "M-7,0 A7,6 0 1 0 7,0 A7,6 0 1 0 -7,0 Z",
        "M-16.5,0 A16.5,45.5 0 1 0 16.5,0 A16.5,45.5 0 1 0 -16.5,0 Z"]}}
     }},
    {"data": {"name": "Bc"},
     "mark": {"type": "rule", "stroke": "#e5262a", "strokeWidth": 2.7, "strokeDash": [9,5]},
     "encoding": {"y": {"field": "v", "type": "quantitative", "title": null}}},
    {"data": {"name": "Bc"},
     "mark": {"type": "text", "text": "Cut-off value", "dx": -33, "dy": -2, "baseline": "bottom", "fontSize": 9.3, "color": "#111"},
     "encoding": {"x": {"field": "c", "type": "nominal", "title": null}, "y": {"field": "v", "type": "quantitative", "title": null}}},
    {"data": {"name": "Bc"},
     "mark": {"type": "text", "dx": -33, "dy": 4, "baseline": "top", "fontSize": 9.3, "color": "#111"},
     "encoding": {"x": {"field": "c", "type": "nominal", "title": null}, "y": {"field": "v", "type": "quantitative", "title": null}, "text": {"field": "t"}}},
    {"data": {"name": "Bg"},
     "mark": {"type": "rule", "color": "black", "strokeWidth": 2},
     "encoding": {"x": {"field": "c", "type": "nominal", "title": null}, "x2": {"field": "c2"}, "y": {"datum": -0.27, "type": "quantitative"}}},
    {"data": {"name": "Bg"},
     "mark": {"type": "text", "dx": 38.8, "baseline": "middle", "font": "DejaVu Sans", "fontWeight": "bold", "fontSize": 9, "color": "black"},
     "encoding": {"x": {"field": "c", "type": "nominal", "title": null}, "y": {"datum": -0.37, "type": "quantitative"}, "text": {"field": "t"}}}
   ]
  }
 ], "spacing": 26},
 {"resolve": {"scale": {"shape": "independent", "color": "independent"}},
  "hconcat": [
  {
   "width": 297, "height": 131,
   "title": {"text": "C", "frame": "group", "anchor": "start", "align": "left", "dx": -18},
   "layer": [
    {"data": {"name": "C"},
     "mark": {"type": "point", "shape": "diamond", "filled": false, "size": 28, "strokeWidth": 1.6, "opacity": 1},
     "encoding": {
      "x": {"field": "c", "type": "nominal", "title": null, "scale": {"domain": ["HER2-enriched|(n=15)","Subtypes left|(n=36)","HER2-enriched|(n=10)","Subtypes left|(n=35)"], "paddingInner": 0.5, "paddingOuter": 0.171, "align": 0.25}, "axis": {"labelExpr": "split(datum.label, '|')"}},
      "xOffset": {"field": "o", "type": "quantitative", "scale": {"domain": [-3.5, 3.5], "nice": false, "zero": false}},
      "y": {"field": "v", "type": "quantitative", "title": null, "scale": {"domain": [0, 1], "nice": false}, "axis": {"values": [0, 0.5, 1], "format": ".1f", "labelPadding": 14}},
      "color": {"field": "g", "type": "nominal", "scale": {"domain": ["s","l"], "range": ["#0f0fd0","#2aa82a"]}, "legend": null}
     }},
    {"data": {"name": "Ce"},
     "mark": {"type": "point", "filled": false, "size": 4, "stroke": "#e5262a", "strokeWidth": 2, "strokeDash": [5,3], "opacity": 1},
     "encoding": {
      "x": {"field": "c", "type": "nominal", "title": null},
      "xOffset": {"field": "o", "type": "quantitative"},
      "y": {"field": "v", "type": "quantitative", "title": null},
      "shape": {"field": "e", "type": "nominal", "legend": null, "scale": {"domain": ["C1","C2","C3","C4"], "range": [
        "M-5.3,0 A5.3,5 0 1 0 5.3,0 A5.3,5 0 1 0 -5.3,0 Z",
        "M-15,0 A15,45 0 1 0 15,0 A15,45 0 1 0 -15,0 Z",
        "M-10.5,0 A10.5,6.5 0 1 0 10.5,0 A10.5,6.5 0 1 0 -10.5,0 Z",
        "M-14.8,0 A14.8,39.3 0 1 0 14.8,0 A14.8,39.3 0 1 0 -14.8,0 Z"]}}
     }},
    {"data": {"name": "Cc"},
     "mark": {"type": "rule", "stroke": "#e5262a", "strokeWidth": 2.7, "strokeDash": [9,5]},
     "encoding": {"y": {"field": "v", "type": "quantitative", "title": null}}},
    {"data": {"name": "Cc"},
     "mark": {"type": "text", "text": "Cut-off value", "dx": -33, "dy": -2, "baseline": "bottom", "fontSize": 9.3, "color": "#111"},
     "encoding": {"x": {"field": "c", "type": "nominal", "title": null}, "y": {"field": "v", "type": "quantitative", "title": null}}},
    {"data": {"name": "Cc"},
     "mark": {"type": "text", "dx": -33, "dy": 4, "baseline": "top", "fontSize": 9.3, "color": "#111"},
     "encoding": {"x": {"field": "c", "type": "nominal", "title": null}, "y": {"field": "v", "type": "quantitative", "title": null}, "text": {"field": "t"}}},
    {"data": {"name": "Cg"},
     "mark": {"type": "rule", "color": "black", "strokeWidth": 2},
     "encoding": {"x": {"field": "c", "type": "nominal", "title": null}, "x2": {"field": "c2"}, "y": {"datum": -0.26, "type": "quantitative"}}},
    {"data": {"name": "Cg"},
     "mark": {"type": "text", "dx": 38.7, "baseline": "middle", "font": "DejaVu Sans", "fontWeight": "bold", "fontSize": 9, "color": "black"},
     "encoding": {"x": {"field": "c", "type": "nominal", "title": null}, "y": {"datum": -0.365, "type": "quantitative"}, "text": {"field": "t"}}}
   ]
  },
  {
   "width": 302, "height": 131,
   "title": {"text": "D", "frame": "group", "anchor": "start", "align": "left", "dx": -3},
   "layer": [
    {"data": {"name": "D"},
     "mark": {"type": "point", "shape": "triangle-up", "filled": false, "size": 26, "strokeWidth": 1.6, "opacity": 1},
     "encoding": {
      "x": {"field": "c", "type": "nominal", "title": null, "scale": {"domain": ["Basal-like|(n=10)","Subtypes left|(n=41)","Basal-like|(n=8)","Subtypes left|(n=37)"], "paddingInner": 0.5, "paddingOuter": 0.173, "align": 0.72}, "axis": {"labelExpr": "split(datum.label, '|')"}},
      "xOffset": {"field": "o", "type": "quantitative", "scale": {"domain": [-3.5, 3.5], "nice": false, "zero": false}},
      "y": {"field": "v", "type": "quantitative", "title": null, "scale": {"domain": [0, 1], "nice": false}, "axis": {"values": [0, 0.5, 1], "format": ".1f", "labelPadding": 5}},
      "color": {"field": "g", "type": "nominal", "scale": {"domain": ["s","l"], "range": ["#0f0fd0","#2aa82a"]}, "legend": null}
     }},
    {"data": {"name": "De"},
     "mark": {"type": "point", "filled": false, "size": 4, "stroke": "#e5262a", "strokeWidth": 2, "strokeDash": [5,3], "opacity": 1},
     "encoding": {
      "x": {"field": "c", "type": "nominal", "title": null},
      "xOffset": {"field": "o", "type": "quantitative"},
      "y": {"field": "v", "type": "quantitative", "title": null},
      "shape": {"field": "e", "type": "nominal", "legend": null, "scale": {"domain": ["D1","D2","D3","D4"], "range": [
        "M-9.3,0 A9.3,12.7 0 1 0 9.3,0 A9.3,12.7 0 1 0 -9.3,0 Z",
        "M-11.5,0 A11.5,22.5 0 1 0 11.5,0 A11.5,22.5 0 1 0 -11.5,0 Z",
        "M-7.8,0 A7.8,12.5 0 1 0 7.8,0 A7.8,12.5 0 1 0 -7.8,0 Z",
        "M-11,0 A11,13.5 0 1 0 11,0 A11,13.5 0 1 0 -11,0 Z"]}}
     }},
    {"data": {"name": "Dc"},
     "mark": {"type": "rule", "stroke": "#e5262a", "strokeWidth": 2.7, "strokeDash": [9,5]},
     "encoding": {"y": {"field": "v", "type": "quantitative", "title": null}}},
    {"data": {"name": "Dc"},
     "mark": {"type": "text", "text": "Cut-off value", "dx": -33, "dy": -2, "baseline": "bottom", "fontSize": 9.3, "color": "#111"},
     "encoding": {"x": {"field": "c", "type": "nominal", "title": null}, "y": {"field": "v", "type": "quantitative", "title": null}}},
    {"data": {"name": "Dc"},
     "mark": {"type": "text", "dx": -33, "dy": 4, "baseline": "top", "fontSize": 9.3, "color": "#111"},
     "encoding": {"x": {"field": "c", "type": "nominal", "title": null}, "y": {"field": "v", "type": "quantitative", "title": null}, "text": {"field": "t"}}},
    {"data": {"name": "Dg"},
     "mark": {"type": "rule", "color": "black", "strokeWidth": 2},
     "encoding": {"x": {"field": "c", "type": "nominal", "title": null}, "x2": {"field": "c2"}, "y": {"datum": -0.26, "type": "quantitative"}}},
    {"data": {"name": "Dg"},
     "mark": {"type": "text", "dx": 39, "baseline": "middle", "font": "DejaVu Sans", "fontWeight": "bold", "fontSize": 9, "color": "black"},
     "encoding": {"x": {"field": "c", "type": "nominal", "title": null}, "y": {"datum": -0.365, "type": "quantitative"}, "text": {"field": "t"}}}
   ]
  }
 ], "spacing": 26}
],
"spacing": 11
}
